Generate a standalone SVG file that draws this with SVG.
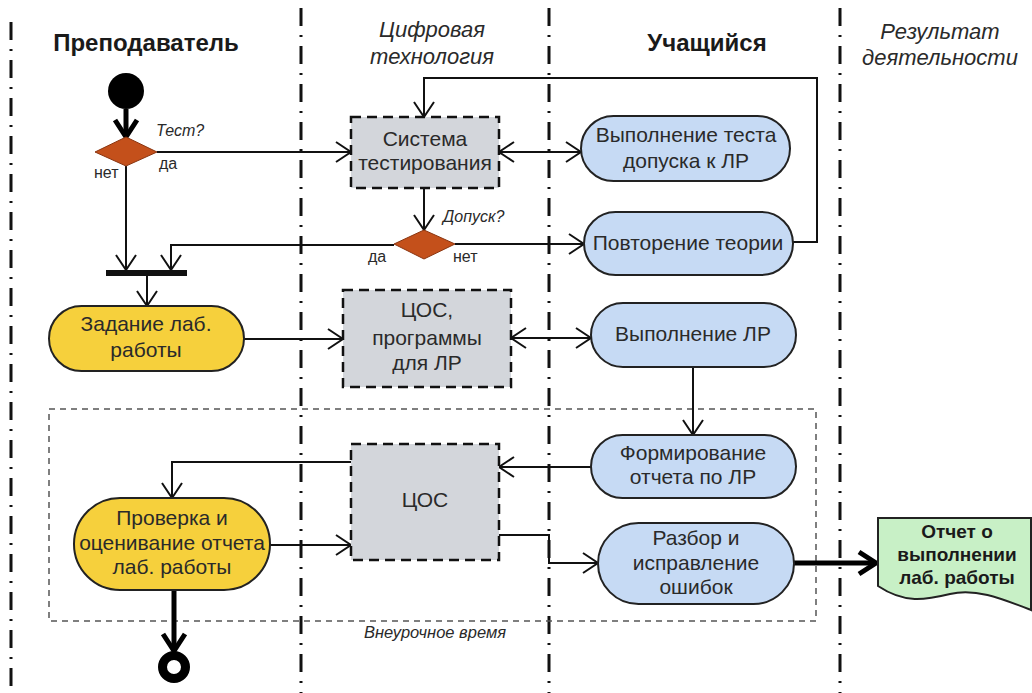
<svg xmlns="http://www.w3.org/2000/svg" width="1032" height="693" viewBox="0 0 1032 693">
  <style>
    .lane { stroke: #111; stroke-width: 3; stroke-dasharray: 18 9 2 9; fill: none; }
    .hdr { font-family: "Liberation Sans", Arial, sans-serif; font-size: 24px; font-weight: bold; fill: #1a1a1a; text-anchor: middle; }
    .hdri { font-family: "Liberation Sans", Arial, sans-serif; font-size: 22px; font-style: italic; fill: #2a2a2a; text-anchor: middle; }
    .t { font-family: "Liberation Sans", Arial, sans-serif; font-size: 21px; fill: #2a2a2a; text-anchor: middle; }
    .tb { font-family: "Liberation Sans", Arial, sans-serif; font-size: 19px; font-weight: bold; fill: #1a1a1a; text-anchor: middle; }
    .lbl { font-family: "Liberation Sans", Arial, sans-serif; font-size: 16px; fill: #2a2a2a; }
    .lbli { font-family: "Liberation Sans", Arial, sans-serif; font-size: 16px; font-style: italic; fill: #2a2a2a; }
    .note { font-family: "Liberation Sans", Arial, sans-serif; font-size: 16.5px; font-style: italic; fill: #2a2a2a; }
    .act-y { fill: #f6d03c; stroke: #222; stroke-width: 2; }
    .act-b { fill: #c6daf4; stroke: #222; stroke-width: 2; }
    .sys { fill: #d3d6db; stroke: #111; stroke-width: 2.5; stroke-dasharray: 10 6; }
    .dec { fill: #c4501b; stroke: #8a3510; stroke-width: 1; }
    .c { fill: none; stroke: #111; stroke-width: 2; }
    .cb { fill: none; stroke: #000; stroke-width: 5; }
  </style>
  <defs>
    <marker id="open" markerUnits="userSpaceOnUse" markerWidth="20" markerHeight="24" refX="17" refY="12" orient="auto-start-reverse">
      <path d="M2,2 L17,12 L2,22" fill="none" stroke="#111" stroke-width="2"/>
    </marker>
    <marker id="heavy" markerUnits="userSpaceOnUse" markerWidth="26" markerHeight="28" refX="21" refY="14" orient="auto">
      <path d="M4,3 L21,14 L4,25" fill="none" stroke="#000" stroke-width="5"/>
    </marker>
  </defs>

  <rect width="1032" height="693" fill="#fff"/>

  <!-- swimlane separators -->
  <g id="lanes">
    <line class="lane" x1="11" y1="22" x2="11" y2="693"/>
    <line class="lane" x1="301" y1="8" x2="301" y2="693"/>
    <line class="lane" x1="549" y1="8" x2="549" y2="693"/>
    <line class="lane" x1="840" y1="8" x2="840" y2="693"/>
  </g>

  <!-- lane headers -->
  <g id="headers">
    <text class="hdr" x="146" y="51">Преподаватель</text>
    <text class="hdri" x="432" y="37">Цифровая</text>
    <text class="hdri" x="432" y="64">технология</text>
    <text class="hdr" x="707" y="51">Учащийся</text>
    <text class="hdri" x="940" y="39">Результат</text>
    <text class="hdri" x="940" y="65">деятельности</text>
  </g>

  <!-- after-hours region -->
  <g id="after-hours">
    <rect x="49" y="409" width="767" height="212" fill="none" stroke="#555" stroke-width="1.5" stroke-dasharray="6 5"/>
    <text class="note" x="435" y="638" text-anchor="middle">Внеурочное время</text>
  </g>

  <!-- connectors -->
  <g id="connectors">
    <path class="cb" d="M126,109 V137" marker-end="url(#heavy)"/>
    <path class="c" d="M157,152 H351" marker-end="url(#open)"/>
    <path class="c" d="M499,152 H581" marker-start="url(#open)" marker-end="url(#open)"/>
    <path class="c" d="M793,242 H817 V78 H424 V117" marker-end="url(#open)"/>
    <path class="c" d="M424,188 V230" marker-end="url(#open)"/>
    <path class="c" d="M455,244 H584" marker-end="url(#open)"/>
    <path class="c" d="M394,245 H171 V270" marker-end="url(#open)"/>
    <path class="c" d="M126,166 V270" marker-end="url(#open)"/>
    <path class="c" d="M147,276 V306" marker-end="url(#open)"/>
    <path class="c" d="M244,339 H343" marker-end="url(#open)"/>
    <path class="c" d="M511,338 H591" marker-start="url(#open)" marker-end="url(#open)"/>
    <path class="c" d="M693,367 V435" marker-end="url(#open)"/>
    <path class="c" d="M591,467 H499" marker-end="url(#open)"/>
    <path class="c" d="M351,462 H172 V498" marker-end="url(#open)"/>
    <path class="c" d="M270,545 H351" marker-end="url(#open)"/>
    <path class="c" d="M499,535 H549 V563 H598" marker-end="url(#open)"/>
    <path class="cb" d="M794,563 H876" marker-end="url(#heavy)"/>
    <path class="cb" d="M174,590 V651" marker-end="url(#heavy)"/>
  </g>

  <!-- start / end -->
  <g id="start"><circle cx="126" cy="91" r="18" fill="#000"/></g>
  <g id="end"><circle cx="174" cy="667" r="11.5" fill="#fff" stroke="#000" stroke-width="9"/></g>

  <!-- decisions -->
  <g id="dec-test">
    <polygon class="dec" points="126,137 157,152 126,166 95,152"/>
    <text class="lbli" x="156" y="136">Тест?</text>
    <text class="lbl" x="94" y="178">нет</text>
    <text class="lbl" x="159" y="169">да</text>
  </g>
  <g id="dec-admit">
    <polygon class="dec" points="424,230 455,244 424,259 394,244"/>
    <text class="lbli" x="443" y="222">Допуск?</text>
    <text class="lbl" x="368" y="262">да</text>
    <text class="lbl" x="453" y="262">нет</text>
  </g>

  <!-- fork bar -->
  <g id="join"><rect x="106" y="270" width="81" height="6" fill="#111"/></g>

  <!-- teacher actions -->
  <g id="task">
    <rect class="act-y" x="49" y="306" width="195" height="65" rx="32.5"/>
    <text class="t" x="146" y="331">Задание лаб.</text>
    <text class="t" x="146" y="357">работы</text>
  </g>
  <g id="check">
    <rect class="act-y" x="74" y="498" width="196" height="92" rx="46"/>
    <text class="t" x="172" y="525">Проверка и</text>
    <text class="t" x="172" y="550">оценивание отчета</text>
    <text class="t" x="172" y="574">лаб. работы</text>
  </g>

  <!-- digital systems -->
  <g id="testing-system">
    <rect class="sys" x="351" y="117" width="148" height="71"/>
    <text class="t" x="425" y="146">Система</text>
    <text class="t" x="425" y="170">тестирования</text>
  </g>
  <g id="dlp-software">
    <rect class="sys" x="343" y="290" width="168" height="97"/>
    <text class="t" x="427" y="317">ЦОС,</text>
    <text class="t" x="427" y="345">программы</text>
    <text class="t" x="427" y="370">для ЛР</text>
  </g>
  <g id="dlp">
    <rect class="sys" x="351" y="444" width="148" height="116"/>
    <text class="t" x="425" y="507">ЦОС</text>
  </g>

  <!-- student actions -->
  <g id="admission-test">
    <rect class="act-b" x="581" y="116" width="209" height="65" rx="32.5"/>
    <text class="t" x="686" y="142">Выполнение теста</text>
    <text class="t" x="686" y="168">допуска к ЛР</text>
  </g>
  <g id="theory">
    <rect class="act-b" x="584" y="212" width="209" height="63" rx="31.5"/>
    <text class="t" x="688" y="250">Повторение теории</text>
  </g>
  <g id="lab-work">
    <rect class="act-b" x="591" y="303" width="205" height="64" rx="32"/>
    <text class="t" x="693" y="341">Выполнение ЛР</text>
  </g>
  <g id="report">
    <rect class="act-b" x="591" y="435" width="205" height="63" rx="31.5"/>
    <text class="t" x="693" y="460">Формирование</text>
    <text class="t" x="693" y="484">отчета по ЛР</text>
  </g>
  <g id="fix">
    <rect class="act-b" x="598" y="523" width="196" height="81" rx="40.5"/>
    <text class="t" x="696" y="545">Разбор и</text>
    <text class="t" x="696" y="570">исправление</text>
    <text class="t" x="696" y="594">ошибок</text>
  </g>

  <!-- result document -->
  <g id="result-doc">
    <path d="M878,518 H1031 V610 C1000,598 975,588 950,594 C925,600 905,604 878,586 Z" fill="#c8f0c6" stroke="#222" stroke-width="2"/>
    <text class="tb" x="957" y="538">Отчет о</text>
    <text class="tb" x="957" y="561">выполнении</text>
    <text class="tb" x="957" y="584">лаб. работы</text>
  </g>
</svg>
